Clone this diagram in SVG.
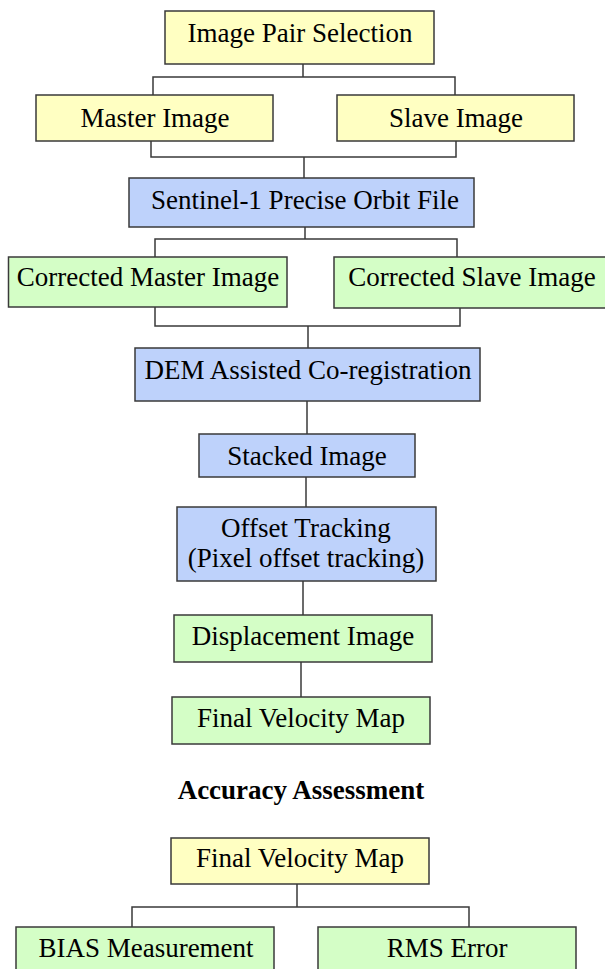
<svg xmlns="http://www.w3.org/2000/svg" width="605" height="969" viewBox="0 0 605 969" font-family="'Liberation Serif', 'Times New Roman', Times, serif" font-size="27">
<style>
rect{stroke:#3a3a3a;stroke-width:1.5}
.y{fill:#FFFFC2}
.b{fill:#BED2FB}
.g{fill:#D4FEC6}
text{fill:#000;text-anchor:middle}
.h{font-weight:bold}
#connectors path{fill:none;stroke:#3a3a3a;stroke-width:1.5}
</style>
<rect width="605" height="969" fill="#fff" style="stroke:none"/>
<g id="connectors">
<path d="M303 64V77M153 95V77H455V95"/>
<path d="M151 141V157H456V141M304 157V178"/>
<path d="M305 227V239M155 257V239H457V257"/>
<path d="M155 307V326H460V308M308 326V348"/>
<path d="M307 401V434"/>
<path d="M306 477V507"/>
<path d="M303 581V615"/>
<path d="M301 662V697"/>
<path d="M297 884V907M132 927V907H469V927"/>
</g>
<g id="n1"><rect class="y" x="165" y="11" width="269" height="53"/><text x="300" y="42">Image Pair Selection</text></g>
<g id="n2"><rect class="y" x="36" y="95" width="237" height="46"/><text x="155" y="127">Master Image</text></g>
<g id="n3"><rect class="y" x="337" y="95" width="237" height="46"/><text x="456" y="127">Slave Image</text></g>
<g id="n4"><rect class="b" x="129" y="178" width="345" height="49"/><text x="305" y="209">Sentinel-1 Precise Orbit File</text></g>
<g id="n5"><rect class="g" x="8.5" y="257" width="278.5" height="50"/><text x="148" y="286">Corrected Master Image</text></g>
<g id="n6"><rect class="g" x="334" y="257" width="280" height="51"/><text x="472" y="286">Corrected Slave Image</text></g>
<g id="n7"><rect class="b" x="135" y="348" width="345" height="53"/><text x="308" y="379">DEM Assisted Co-registration</text></g>
<g id="n8"><rect class="b" x="199" y="434" width="216" height="43"/><text x="307" y="465">Stacked Image</text></g>
<g id="n9"><rect class="b" x="177" y="507" width="259" height="74"/><text x="306" y="537">Offset Tracking</text><text x="306" y="567">(Pixel offset tracking)</text></g>
<g id="n10"><rect class="g" x="174" y="615" width="258" height="47"/><text x="303" y="645">Displacement Image</text></g>
<g id="n11"><rect class="g" x="172" y="697" width="258" height="47"/><text x="301" y="727">Final Velocity Map</text></g>
<g id="title"><text class="h" x="301" y="799">Accuracy Assessment</text></g>
<g id="n12"><rect class="y" x="171" y="838" width="258" height="46"/><text x="300" y="867">Final Velocity Map</text></g>
<g id="n13"><rect class="g" x="16" y="927" width="258" height="50"/><text x="146" y="957">BIAS Measurement</text></g>
<g id="n14"><rect class="g" x="318" y="927" width="258" height="50"/><text x="447" y="957">RMS Error</text></g>
</svg>
